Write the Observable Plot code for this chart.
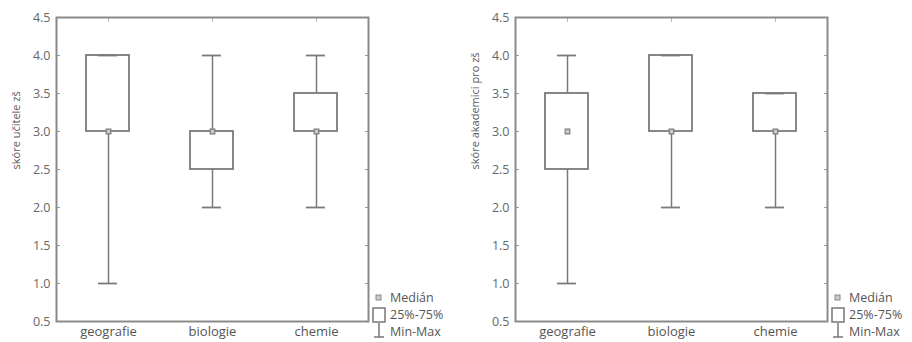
<!DOCTYPE html>
<html><head><meta charset="utf-8">
<script src="https://cdn.jsdelivr.net/npm/d3@7"></script>
<script src="https://cdn.jsdelivr.net/npm/@observablehq/plot@0.6"></script>
<style>
body{margin:0;background:#fff;font-family:"Open Sans",sans-serif;}
#wrap{position:relative;width:912px;height:342px;overflow:hidden;}
.panel{position:absolute;top:0;}
.legend{position:absolute;font-size:12.5px;color:#555;line-height:17px;}
.legend div{display:flex;align-items:center;height:17px;}
.legend svg{margin-right:4px;}
</style></head>
<body><div id="wrap"></div>
<script>
const categories = ["geografie", "biologie", "chemie"];
// panel 1: skóre učitele zš
const ucMin = [1, 2, 2];
const ucQ1 = [3, 2.5, 3];
const ucMed = [3, 3, 3];
const ucQ3 = [4, 3, 3.5];
const ucMax = [4, 4, 4];
// panel 2: skóre akademici pro zš
const akMin = [1, 2, 2];
const akQ1 = [2.5, 3, 3];
const akMed = [3, 3, 3];
const akQ3 = [3.5, 4, 3.5];
const akMax = [4, 4, 3.5];
const yTicks = [0.5, 1.0, 1.5, 2.0, 2.5, 3.0, 3.5, 4.0, 4.5];
const legendLabels = ["Medián", "25%-75%", "Min-Max"];

const LINE = "#7a7a7a";
function panel(label, mn, q1, md, q3, mx) {
  const data = categories.map((c, i) => ({c, min: mn[i], q1: q1[i], med: md[i], q3: q3[i], max: mx[i]}));
  return Plot.plot({
    width: 456, height: 342,
    marginLeft: 56, marginRight: 88, marginTop: 17, marginBottom: 21,
    style: {fontFamily: "Open Sans, sans-serif", fontSize: "12px", color: "#666", background: "#fff"},
    x: {domain: categories, padding: 0, label: null},
    y: {domain: [0.5, 4.5], ticks: yTicks, tickFormat: d => d.toFixed(1), label: null},
    marks: [
      Plot.axisY({ticks: yTicks, tickFormat: d => d.toFixed(1), tickSize: 0, tickPadding: 6, fontSize: 12.5, fill: "#666"}),
      Plot.axisY({ticks: yTicks, tickSize: -4, text: null, stroke: "#999"}),
      Plot.axisY({ticks: yTicks, anchor: "right", tickSize: -4, text: null, stroke: "#999"}),
      Plot.axisX({tickSize: 0, tickPadding: 5, fontSize: 13, fill: "#555"}),
      Plot.axisX({anchor: "top", tickSize: -4, text: null, stroke: "#bbb"}),
      Plot.text([label], {frameAnchor: "left", dx: -40, rotate: -90, fontSize: 11, fill: "#5a5a5a"}),
      Plot.ruleX(data, {x: "c", y1: "min", y2: "q1", stroke: LINE, strokeWidth: 1.5}),
      Plot.ruleX(data, {x: "c", y1: "q3", y2: "max", stroke: LINE, strokeWidth: 1.5}),
      Plot.barY(data, {x: "c", y1: "q1", y2: "q3", fill: "white", stroke: LINE, strokeWidth: 1.8, insetLeft: 30, insetRight: 31}),
      Plot.tickY(data, {x: "c", y: "min", stroke: LINE, strokeWidth: 1.8, insetLeft: 42, insetRight: 43}),
      Plot.tickY(data, {x: "c", y: "max", stroke: LINE, strokeWidth: 1.8, insetLeft: 42, insetRight: 43}),
      Plot.dot(data, {x: "c", y: "med", symbol: "square", r: 2.6, fill: "#ccc", stroke: LINE, strokeWidth: 1.2}),
      Plot.frame({stroke: "#8a8a8a", strokeWidth: 2})
    ]
  });
}

function legend(left) {
  const d = document.createElement("div");
  d.className = "legend";
  d.style.left = left + "px";
  d.style.top = "289px";
  const icons = [
    `<svg width="14" height="17"><rect x="4" y="6" width="5" height="5" fill="#ccc" stroke="#888"/></svg>`,
    `<svg width="14" height="17"><rect x="1" y="2" width="12" height="14" fill="#fff" stroke="#777" stroke-width="1.5"/></svg>`,
    `<svg width="14" height="17"><line x1="7" y1="0" x2="7" y2="14" stroke="#777" stroke-width="1.5"/><line x1="2" y1="14" x2="12" y2="14" stroke="#777" stroke-width="1.5"/></svg>`
  ];
  d.innerHTML = legendLabels.map((t, i) => `<div>${icons[i]}<span>${t}</span></div>`).join("");
  return d;
}

const wrap = document.getElementById("wrap");
const p1 = panel("skóre učitele zš", ucMin, ucQ1, ucMed, ucQ3, ucMax);
p1.classList.add("panel"); p1.style.left = "0px";
const p2 = panel("skóre akademici pro zš", akMin, akQ1, akMed, akQ3, akMax);
p2.classList.add("panel"); p2.style.left = "459px";
wrap.appendChild(p1); wrap.appendChild(p2);
wrap.appendChild(legend(372));
wrap.appendChild(legend(831));
</script></body></html>
